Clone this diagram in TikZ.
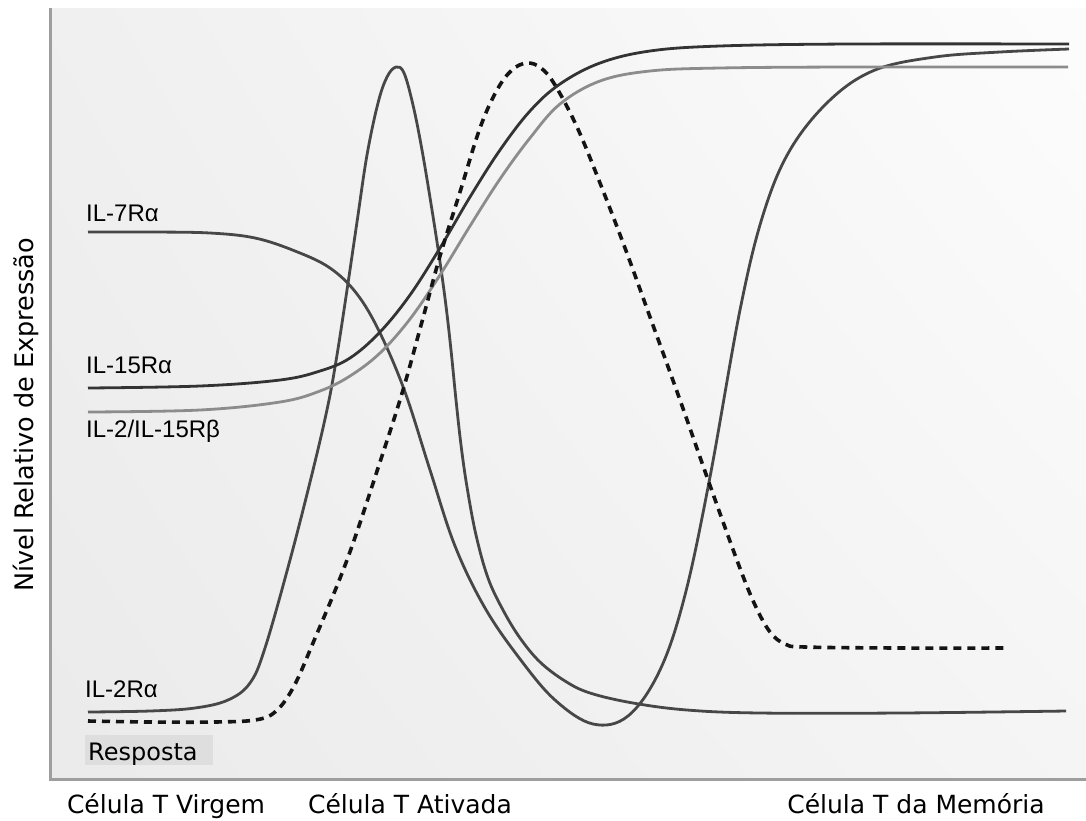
\documentclass[tikz,border=0pt]{standalone}
\usepackage{fontspec}
\setmainfont{Liberation Sans}
\newfontfamily\stagefont{DejaVu Sans}
\usetikzlibrary{shadings}

\begin{document}
\begin{tikzpicture}[x=1pt, y=-1pt,
  curve/.style = {line width=2.8pt, line join=round, color=black!72},
  resp/.style = {line width=3.6pt, dash pattern=on 8pt off 6pt, color=black!92},
  lbl/.style = {anchor=base west, inner sep=0pt,
    font=\fontsize{24}{28}\selectfont},
  stage/.style = {anchor=base, inner sep=0pt,
    font=\stagefont\fontsize{25}{30}\selectfont}]
  \useasboundingbox (0,0) rectangle (1086,820);
  % plot area
  \shade[lower left=black!8, upper left=black!6, upper right=black!1, lower right=black!4]
    (50,8) rectangle (1086,779);
  \draw[line width=3pt, black!38] (50,8) -- (50,779) -- (1086,779);

  % IL-7Ra
  \draw[curve] plot[smooth, tension=0.6] coordinates {(88,232) (150,232) (210,233)
    (255,238) (295,251) (330,268) (357,294) (380,333) (405,392) (430,470) (455,546)
    (485,608) (520,659) (555,700) (593,724) (628,716) (660,670) (685,595) (710,477)
    (740,310) (763,215) (790,150) (830,100) (875,70) (935,57) (1000,52) (1069,49)};
  % IL-2Ra
  \draw[curve] plot[smooth, tension=0.6] coordinates {(88,712) (150,711) (195,708)
    (228,700) (250,683) (265,648) (290,560) (313,470) (328,405) (337,355) (347,290)
    (357,222) (367,155) (378,103) (387,77) (396,67) (404,73) (413,105) (422,150)
    (432,210) (440,262) (446,306) (451,350) (456,400) (461,445) (467,487) (476,535)
    (488,578) (503,610) (520,638) (540,662) (565,681) (590,693) (633,703) (687,710)
    (760,713) (900,713) (1066,711)};
  % IL-15Ra
  \draw[curve, black!80] plot[smooth, tension=0.6] coordinates {(88,388) (200,386)
    (280,380) (320,371) (350,358) (380,332) (410,295) (440,248) (470,197) (500,150)
    (530,111) (560,84) (600,63) (650,51) (720,46) (850,44) (1069,44)};
  % IL-2/IL-15Rb
  \draw[curve, black!45] plot[smooth, tension=0.6] coordinates {(88,412) (200,410)
    (280,402) (320,391) (350,376) (380,353) (410,319) (440,275) (470,226) (500,179)
    (530,138) (560,104) (600,81) (650,71) (720,68) (850,67) (1068,67)};
  % Resposta
  \draw[resp] plot[smooth, tension=0.6] coordinates {(88,721) (150,722) (215,722)
    (255,720) (275,712) (293,688) (313,643) (347,560) (380,462) (403,390) (423,318)
    (440,256) (460,192) (480,128) (497,90) (512,70) (527,63) (541,68) (555,85)
    (577,127) (600,183) (625,248) (650,317) (680,400) (707,477) (738,563) (755,605)
    (770,632) (785,644) (805,647) (900,648) (1008,648)};

  \node[lbl] (il7) at (86,221) {IL-7Rα};
  \node[lbl] (il15) at (86,373) {IL-15Rα};
  \node[lbl] (il2b) at (86,437) {IL-2/IL-15Rβ};
  \node[lbl] (il2a) at (85,697) {IL-2Rα};
  \node[lbl, fill=black!13, font=\stagefont\fontsize{24}{28}\selectfont,
    text width=122pt, inner xsep=3pt, inner ysep=2pt, text height=23pt,
    text depth=3pt] (resposta) at (85,760) {Resposta};

  \node[stage] (naive) at (166,813) {Célula T Virgem};
  \node[stage] (active) at (410,813) {Célula T Ativada};
  \node[stage] (memory) at (916,813) {Célula T da Memória};
  \node[stage, rotate=90, font=\stagefont\fontsize{25.5}{30}\selectfont] (ylabel)
    at (33,415) {Nível Relativo de Expressão};
\end{tikzpicture}
\end{document}
